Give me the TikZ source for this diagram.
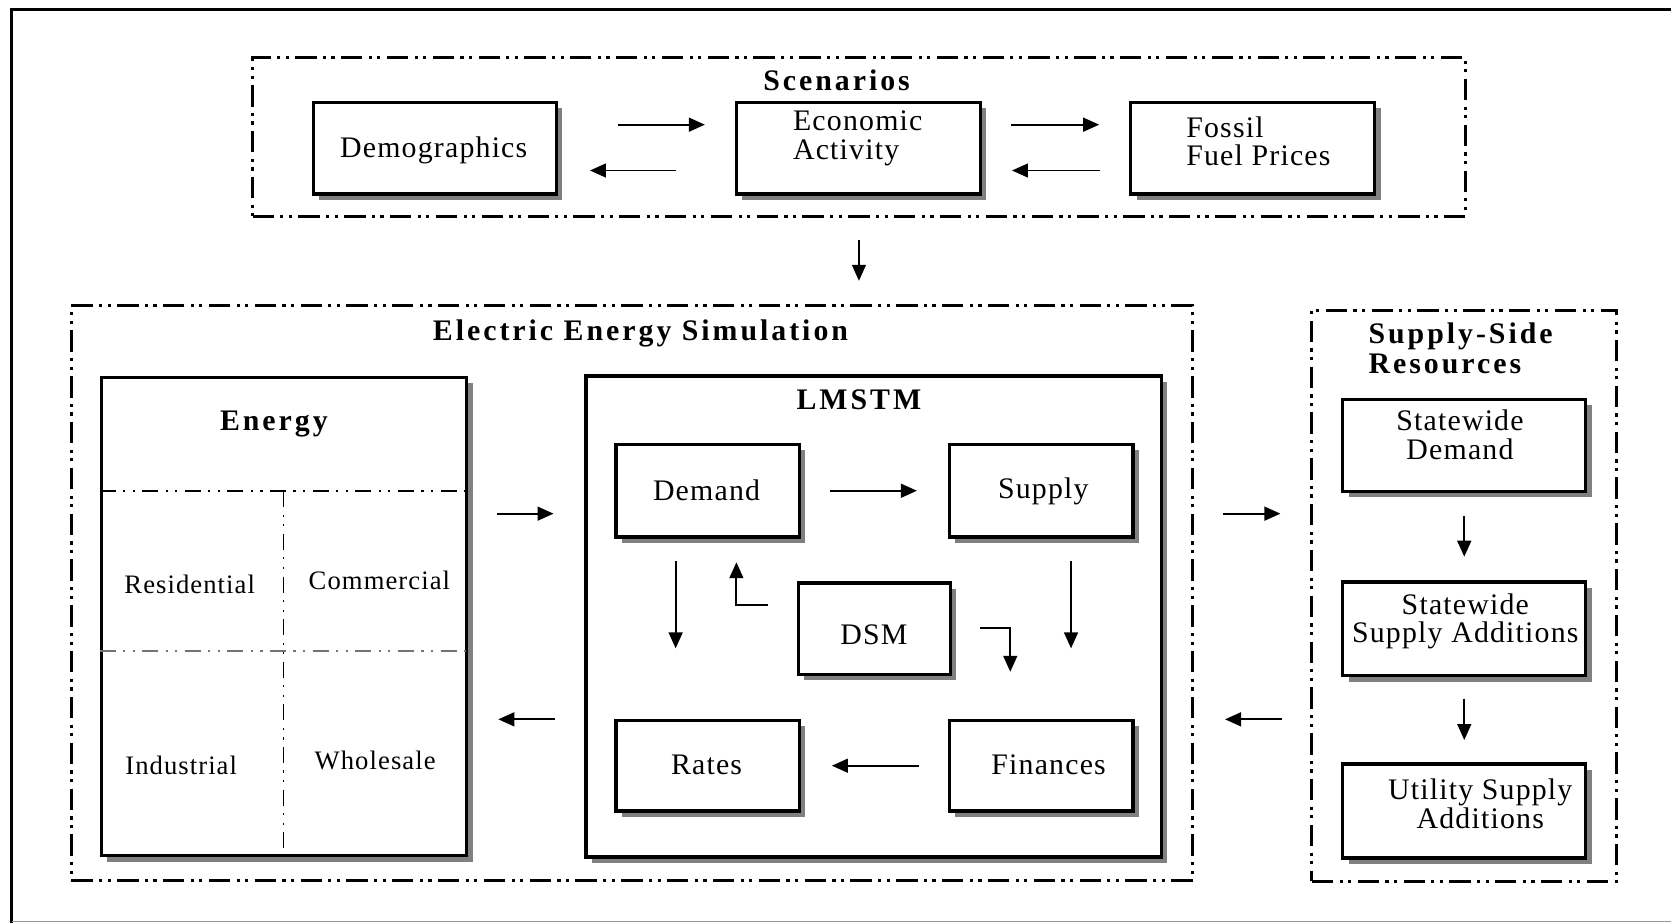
\documentclass[tikz,border=0pt]{standalone}
\usepackage{fontspec}
\setmainfont{Liberation Serif}
\newfontfamily\regf[LetterSpace=4]{Liberation Serif}
\newfontfamily\ttlf[LetterSpace=10]{Liberation Serif}
\usetikzlibrary{arrows.meta,shadows}
\begin{document}
\begin{tikzpicture}[x=1pt,y=-1pt,
  box/.style={draw, line width=3.2pt, fill=white,
    general shadow={fill=black!50, shadow xshift=5.5pt, shadow yshift=-5.5pt},
    inner sep=0pt},
  group/.style={draw, line width=3pt,
    dash pattern=on 20pt off 6pt on 3pt off 5pt on 3pt off 6pt},
  divider/.style={line width=1.6pt,
    dash pattern=on 15pt off 7pt on 2pt off 7pt on 2pt off 7pt},
  arr/.style={-{Triangle[length=15pt,width=13pt]}, line width=1.8pt},
  txt/.style={font=\regf\fontsize{28}{27}\selectfont, align=center, inner sep=0pt},
  small/.style={font=\regf\fontsize{25}{25}\selectfont, inner sep=0pt},
  title/.style={font=\ttlf\bfseries\fontsize{28}{28}\selectfont, inner sep=0pt, align=left},
]
\useasboundingbox (0,0) rectangle (1568,866);
% outer frame
\draw[line width=2.5pt] (11,866) -- (11,9) -- (1568,9);
\draw[black!40, line width=1pt] (11,864.5) -- (1568,864.5);

% groups
\node[group, minimum width=1138pt, minimum height=149pt] (scen) at (806,128.5) {};
\node[group, minimum width=1052pt, minimum height=539pt] (elec) at (593,556.5) {};
\node[group, minimum width=286pt, minimum height=536pt] (ssr) at (1374,559) {};

% scenario boxes
\node[box, minimum width=228pt, minimum height=86pt] (demo) at (408,139) {};
\node[box, minimum width=229pt, minimum height=86pt] (econ) at (805.5,139) {};
\node[box, minimum width=229pt, minimum height=86pt] (fossil) at (1175.5,139) {};

% energy and LMSTM
\node[box, minimum width=343pt, minimum height=449pt] (energy) at (266.5,578.5) {};
\node[box, minimum width=540pt, minimum height=451pt] (lmstm) at (820,578.5) {};
\node[box, minimum width=172pt, minimum height=87pt] (demand) at (664,460.5) {};
\node[box, minimum width=172pt, minimum height=87pt] (supply) at (977,460.5) {};
\node[box, minimum width=143pt, minimum height=86pt] (dsm) at (820.5,590) {};
\node[box, minimum width=172pt, minimum height=85pt] (rates) at (664,718.5) {};
\node[box, minimum width=172pt, minimum height=85pt] (finances) at (977,718.5) {};

% supply side boxes
\node[box, minimum width=228pt, minimum height=86pt] (sd) at (1374,418) {};
\node[box, minimum width=228pt, minimum height=88pt] (ssa) at (1374,590) {};
\node[box, minimum width=228pt, minimum height=88pt] (usa) at (1374,761) {};

% energy dividers
\draw[divider] (energy.west |- 0,461) -- (energy.east |- 0,461);
\draw[divider, black!55] (energy.west |- 0,611) -- (energy.east |- 0,611);
\draw[divider] (266,461) -- (266,803);

% texts
\node[title] (tscen) at (785,75) {Scenarios};
\node[title] (telec) at (601,313) {Electric Energy Simulation};
\node[title] (tenergy) at (257,398) {Energy};
\node[title] (tlmstm) at (806,375) {LMSTM};
\node[title, anchor=west] (tssr) at (1284,327) {Supply-Side\\Resources};

\node[txt] (tdemo) at (407,141) {Demographics};
\node[txt, align=left, anchor=west] (tecon) at (744,129.5) {Economic\\Activity};
\node[txt, align=left, anchor=west] (tfossil) at (1113,132.5) {Fossil\\Fuel Prices};

\node[small] (tres) at (178,548) {Residential};
\node[small] (tcom) at (356,545) {Commercial};
\node[small] (tind) at (170,718) {Industrial};
\node[small] (twho) at (352,714) {Wholesale};

\node[txt] (tdemand) at (663,460) {Demand};
\node[txt] (tsupply) at (979,461) {Supply};
\node[txt] (tdsm) at (820,596) {DSM};
\node[txt] (trates) at (663,718) {Rates};
\node[txt] (tfin) at (984,718) {Finances};

\node[txt] (tsd) at (1370,408) {Statewide\\Demand};
\node[txt] (tssa) at (1375,583) {Statewide\\Supply Additions};
\node[txt] (tusa) at (1389,754) {Utility Supply\\Additions};

% arrows: scenarios
\draw[arr, shorten <=56pt, shorten >=28pt] (demo.east |- 0,117) -- (econ.west |- 0,117);
\draw[arr, shorten <=55pt, shorten >=30pt] (econ.west |- 0,160) -- (demo.east |- 0,160);
\draw[arr, shorten <=27pt, shorten >=28pt] (econ.east |- 0,117) -- (fossil.west |- 0,117);
\draw[arr, shorten <=27pt, shorten >=28pt] (fossil.west |- 0,160) -- (econ.east |- 0,160);
\draw[arr, shorten <=21pt, shorten >=22pt] (scen.south) -- (scen.south |- elec.north);

% arrows: energy <-> LMSTM
\draw[arr, shorten <=27pt, shorten >=29pt] (energy.east |- 0,482) -- (lmstm.west |- 0,482);
\draw[arr, shorten <=28pt, shorten >=28pt] (lmstm.west |- 0,675) -- (energy.east |- 0,675);

% arrows: electric <-> supply side
\draw[arr, shorten <=27pt, shorten >=28pt] (elec.east |- 0,482) -- (ssr.west |- 0,482);
\draw[arr, shorten <=27pt, shorten >=29pt] (ssr.west |- 0,675) -- (elec.east |- 0,675);

% LMSTM inner arrows
\draw[arr, shorten <=27pt, shorten >=29pt] (demand.east) -- (supply.west);
\draw[arr, shorten <=21pt, shorten >=66pt] (demand.south -| 634,0) -- (rates.north -| 634,0);
\draw[arr, shorten <=21pt, shorten >=66pt] (supply.south -| 1005,0) -- (finances.north -| 1005,0);
\draw[arr, shorten <=27pt, shorten >=29pt] (finances.west) -- (rates.east);
\coordinate (k1) at (691,568);
\coordinate (k2) at (948,589);
\draw[arr, shorten <=27pt, shorten >=22pt] (dsm.west |- k1) -- (k1) -- (k1 |- demand.south);
\draw[arr, shorten <=26pt, shorten >=44pt] (dsm.east |- k2) -- (k2) -- (k2 |- finances.north);

% supply side arrows
\draw[arr, shorten <=22pt, shorten >=22pt] (sd.south) -- (ssa.north);
\draw[arr, shorten <=20pt, shorten >=21pt] (ssa.south) -- (usa.north);
\end{tikzpicture}
\end{document}
